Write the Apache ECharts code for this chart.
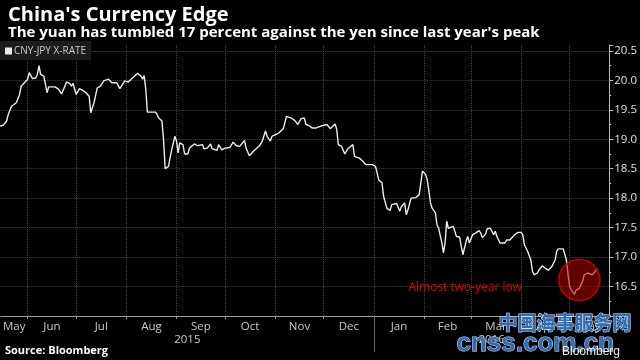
<!DOCTYPE html>
<html><head><meta charset="utf-8">
<script src="https://cdn.jsdelivr.net/npm/echarts@6/dist/echarts.min.js"></script>
<style>html,body{margin:0;padding:0;background:#000}#c{width:640px;height:360px}</style>
</head><body><div id="c"></div>
<script>
const dates = [
'2015-05-15','2015-05-17','2015-05-19','2015-05-20','2015-05-22','2015-05-23','2015-05-25','2015-05-26','2015-05-27','2015-05-28','2015-05-30',
'2015-06-01','2015-06-02','2015-06-04','2015-06-06','2015-06-07','2015-06-08','2015-06-09','2015-06-11','2015-06-12','2015-06-13','2015-06-14','2015-06-15','2015-06-18','2015-06-20','2015-06-22','2015-06-25','2015-06-27','2015-06-28','2015-06-29',
'2015-07-01','2015-07-02','2015-07-03','2015-07-05','2015-07-07','2015-07-09','2015-07-10','2015-07-12','2015-07-14','2015-07-16','2015-07-18','2015-07-21','2015-07-23','2015-07-26','2015-07-28','2015-07-31',
'2015-08-02','2015-08-04','2015-08-08','2015-08-10','2015-08-11','2015-08-12','2015-08-13','2015-08-14','2015-08-19','2015-08-20','2015-08-21','2015-08-23','2015-08-24','2015-08-25','2015-08-27','2015-08-29','2015-08-31',
'2015-09-01','2015-09-02','2015-09-03','2015-09-05','2015-09-06','2015-09-08','2015-09-09','2015-09-12','2015-09-14','2015-09-17','2015-09-18','2015-09-20','2015-09-22','2015-09-23','2015-09-26','2015-09-27','2015-09-29',
'2015-10-01','2015-10-04','2015-10-06','2015-10-08','2015-10-10','2015-10-13','2015-10-14','2015-10-16','2015-10-17','2015-10-19','2015-10-20','2015-10-22','2015-10-24','2015-10-26','2015-10-27','2015-10-29','2015-10-30',
'2015-11-01','2015-11-03','2015-11-04','2015-11-06','2015-11-07','2015-11-08','2015-11-11','2015-11-13','2015-11-15','2015-11-17','2015-11-19','2015-11-20','2015-11-22','2015-11-24','2015-11-26','2015-11-28','2015-11-30',
'2015-12-03','2015-12-04','2015-12-05','2015-12-08','2015-12-09','2015-12-10','2015-12-12','2015-12-14','2015-12-15','2015-12-16','2015-12-19','2015-12-20','2015-12-23','2015-12-25','2015-12-27','2015-12-29','2015-12-31',
'2016-01-02','2016-01-03','2016-01-04','2016-01-06','2016-01-07','2016-01-09','2016-01-11','2016-01-12','2016-01-13','2016-01-15','2016-01-17','2016-01-18','2016-01-20','2016-01-21','2016-01-22','2016-01-24','2016-01-25','2016-01-27','2016-01-29','2016-01-30','2016-01-31',
'2016-02-02','2016-02-03','2016-02-05','2016-02-06','2016-02-08','2016-02-09','2016-02-10','2016-02-12','2016-02-13','2016-02-14','2016-02-15','2016-02-16','2016-02-19','2016-02-20','2016-02-21','2016-02-23','2016-02-24','2016-02-25','2016-02-27','2016-02-28','2016-02-29',
'2016-03-02','2016-03-04','2016-03-06','2016-03-07','2016-03-08','2016-03-10','2016-03-11','2016-03-13','2016-03-14','2016-03-15','2016-03-16','2016-03-17','2016-03-19','2016-03-22','2016-03-23','2016-03-24','2016-03-25','2016-03-28','2016-03-30',
'2016-04-01','2016-04-02','2016-04-03','2016-04-05','2016-04-07','2016-04-08','2016-04-09','2016-04-11','2016-04-12','2016-04-14','2016-04-16','2016-04-18','2016-04-20','2016-04-21','2016-04-22','2016-04-23','2016-04-24','2016-04-27','2016-04-28','2016-04-29','2016-04-30',
'2016-05-01','2016-05-02','2016-05-04','2016-05-05','2016-05-07','2016-05-08','2016-05-09','2016-05-10','2016-05-12','2016-05-13','2016-05-15','2016-05-16','2016-05-18'
];
const values = [
19.22,19.24,19.31,19.42,19.56,19.53,19.62,19.62,19.76,19.90,19.96,
20.02,20.13,20.03,20.04,20.10,20.25,20.10,20.07,19.93,19.79,19.89,19.89,19.89,19.85,19.77,19.97,19.95,19.90,19.95,
19.76,19.79,19.86,19.83,19.79,19.73,19.45,19.62,19.87,19.90,19.99,20.02,19.96,19.96,19.86,19.99,
19.97,20.02,20.12,20.07,20.02,20.08,19.85,19.46,19.46,19.42,19.36,19.31,18.99,18.50,18.54,18.82,19.05,
18.97,18.77,18.94,18.91,18.75,18.75,18.85,18.92,18.89,18.91,18.84,18.85,18.92,18.84,18.81,18.91,18.82,
18.85,18.86,18.95,18.89,18.88,18.98,18.85,18.72,18.75,18.81,18.80,18.88,18.97,19.14,19.05,18.97,19.05,
19.08,19.10,19.11,19.18,19.19,19.39,19.36,19.32,19.25,19.35,19.36,19.25,19.23,19.19,19.19,19.21,19.23,
19.25,19.26,19.18,19.26,19.17,18.91,18.88,18.75,18.75,18.84,18.91,18.71,18.68,18.63,18.57,18.57,18.57,
18.54,18.56,18.31,18.26,18.03,17.83,17.79,17.89,17.91,17.91,17.78,17.86,17.92,17.72,17.80,18.00,18.03,18.01,18.06,18.26,18.46,
18.40,18.31,17.92,17.83,17.75,17.55,17.49,17.24,17.07,17.24,17.61,17.49,17.52,17.44,17.35,17.34,17.18,17.04,17.27,17.35,17.24,
17.38,17.41,17.45,17.41,17.33,17.39,17.48,17.49,17.48,17.38,17.44,17.35,17.24,17.24,17.29,17.32,17.29,17.38,17.42,
17.42,17.38,17.21,17.10,16.95,16.76,16.70,16.73,16.78,16.85,16.81,16.78,16.84,16.87,16.95,17.10,17.14,17.14,17.14,16.95,16.70,
16.50,16.44,16.37,16.44,16.47,16.44,16.59,16.70,16.73,16.70,16.70,16.73,16.80
];
const seriesName = 'CNY-JPY X-RATE';
const monthStarts = ['2015-06-01','2015-07-01','2015-08-01','2015-09-01','2015-10-01','2015-11-01','2015-12-01','2016-01-01','2016-02-01','2016-03-01','2016-04-01','2016-05-01'];
const monthLabels = ['May','Jun','Jul','Aug','Sep','Oct','Nov','Dec','Jan','Feb','Mar','Apr','May'];
const yearLabels = ['2015','2016'];
const yearBreak = '2016-01-01';
const axisStart = '2015-05-15 09';
const axisEnd = '2016-05-25 11';
const yMin = 16, yMax = 20.6, yStep = 0.5;
const noteDate = '2016-05-07', noteValue = 16.61, noteText = 'Almost two-year low';

function ts(s){
  const parts = s.split(' ');
  const [y,m,d] = parts[0].split('-').map(Number);
  const h = parts[1] ? Number(parts[1]) : 0;
  return new Date(y, m-1, d, h).getTime();
}
const xMin = ts(axisStart), xMax = ts(axisEnd);
const bounds = [xMin].concat(monthStarts.map(ts)).concat([xMax]);
const monthMids = bounds.slice(0,-1).map((b,i)=>(b+bounds[i+1])/2);
const yearMids = [(xMin+ts(yearBreak))/2, (ts(yearBreak)+xMax)/2];
function nearest(arr, v){ let bi=0, bd=Infinity; arr.forEach((a,i)=>{const d=Math.abs(a-v); if(d<bd){bd=d;bi=i;}}); return bi; }

const FONT = 'Open Sans';
const chart = echarts.init(document.getElementById('c'), null, {renderer:'canvas'});
chart.setOption({
  backgroundColor: '#000',
  animation: false,
  textStyle: {fontFamily: FONT},
  title: [
    {text: "China's Currency Edge", left: 3, top: 0, textStyle: {color:'#fff', fontSize: 20, fontWeight:'bold', fontFamily: FONT}},
    {text: "The yuan has tumbled 17 percent against the yen since last year's peak", left: 3, top: 20, textStyle: {color:'#fff', fontSize: 15, fontWeight:'bold', fontFamily: FONT}}
  ],
  legend: {
    left: 0, top: 41, icon: 'rect', itemWidth: 7, itemHeight: 7, itemGap: 4,
    backgroundColor: '#1c1c1c', padding: [5, 5, 4, 5],
    textStyle: {color:'#c8c8c8', fontSize: 10, fontFamily: FONT, padding: [0,0,0,-3]},
    data: [seriesName]
  },
  grid: {left: 0, right: 29, top: 45, bottom: 44, containLabel: false},
  xAxis: [
    {
      type: 'value', min: xMin, max: xMax, scale: true,
      axisLine: {show: true, lineStyle: {color: '#9a9a9a', width: 1}},
      axisTick: {show: true, customValues: monthStarts.map(ts), length: 3, lineStyle: {color: '#9a9a9a'}},
      axisLabel: {customValues: monthMids, hideOverlap: false, color: '#c8c8c8', fontSize: 11.5, margin: 5, fontFamily: FONT,
        formatter: v => monthLabels[nearest(monthMids, v)]},
      splitLine: {show: true, lineStyle: {color: '#444', type: 'dotted', width: 1}}
    },
    {
      type: 'value', min: xMin, max: xMax, scale: true, position: 'bottom', gridIndex: 0,
      axisLine: {show: false},
      axisTick: {show: true, customValues: [ts(yearBreak)], length: 36, lineStyle: {color: '#666'}},
      axisLabel: {customValues: yearMids, hideOverlap: false, color: '#c8c8c8', fontSize: 11.5, margin: 18, fontFamily: FONT,
        formatter: v => yearLabels[nearest(yearMids, v)]},
      splitLine: {show: false}
    }
  ],
  yAxis: {
    type: 'value', position: 'right', min: yMin, max: yMax, interval: yStep,
    axisLine: {show: true, lineStyle: {color: '#bbb', width: 1}},
    axisTick: {show: true, length: 4, lineStyle: {color: '#bbb'}},
    minorTick: {show: true, splitNumber: 2, length: 2, lineStyle: {color: '#bbb'}},
    axisLabel: {color: '#e0e0e0', fontSize: 11.5, margin: 5, fontFamily: FONT,
      formatter: v => (Math.abs(v*2 - Math.round(v*2)) < 1e-6 && v > yMin) ? v.toFixed(1) : ''},
    splitLine: {show: true, showMinLine: false, showMaxLine: false, lineStyle: {color: '#444', type: 'dotted', width: 1}}
  },
  series: [{
    name: seriesName, type: 'line', showSymbol: false, symbol: 'none',
    color: '#ececec',
    lineStyle: {color: '#ececec', width: 1.4},
    data: dates.map((d,i)=>[ts(d), values[i]]),
    markPoint: {
      silent: true,
      data: [{
        coord: [ts(noteDate), noteValue], symbol: 'circle', symbolSize: 41,
        itemStyle: {color: 'rgba(175,0,0,0.55)', borderColor: '#c00000', borderWidth: 1.5},
        label: {show: true, formatter: noteText, position: 'left', distance: 38, offset: [2, 8], color: '#e00000', fontSize: 12, fontFamily: FONT}
      }]
    }
  }],
  graphic: [
    {type: 'text', left: 5, top: 345, style: {text: 'Source: Bloomberg', fill: '#fff', font: 'bold 11px "Open Sans"'}},
    {type: 'text', left: 498, top: 313, z: 100, style: {text: '中国海事服务网', fill: '#2f6db5', stroke: '#d8e6f7', lineWidth: 1, font: 'bold 19px "Noto Sans CJK SC"'}},
    {type: 'text', left: 456, top: 330, z: 100, style: {text: 'cnss.com.cn', fill: '#2f6db5', stroke: '#d8e6f7', lineWidth: 1, font: 'bold 26px "Liberation Sans"'}},
    {type: 'text', left: 562, top: 346, z: 101, style: {text: 'Bloomberg', fill: '#eee', font: '12px "Liberation Sans"'}}
  ]
});
</script></body></html>
